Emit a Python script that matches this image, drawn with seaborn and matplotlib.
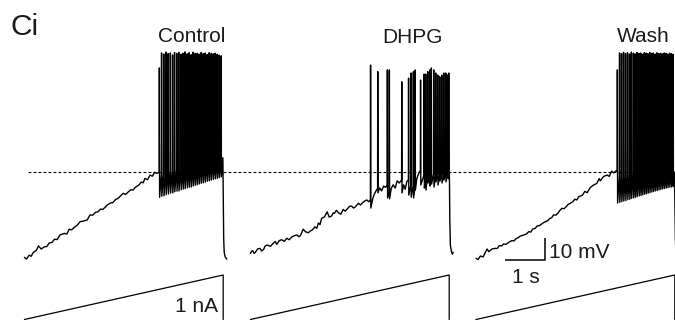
import numpy as np
import pandas as pd
import matplotlib
matplotlib.use("Agg")
import matplotlib.pyplot as plt
import seaborn as sns

# ---------------- data ----------------
conditions = ["Control", "DHPG", "Wash"]
sweep_start_s = [0.61, 6.26, 11.90]          # start of each sweep on the common time axis
sweep_duration_s = 4.97
threshold_mV = -50.0
ramp_start_nA = 0.0
ramp_peak_nA = 1.0

# Control: subthreshold knots (local time s, mV)
ctrl_base_t = [0.00, 0.05, 0.12, 0.17, 0.22, 0.30, 0.35, 0.42, 0.50, 0.56, 0.62, 0.69, 0.75,
               0.82, 0.89, 1.00, 1.06, 1.12, 1.18, 1.25, 1.32, 1.39, 1.50, 1.57, 1.64, 1.71,
               1.78, 1.84, 1.90, 1.96, 2.02, 2.08, 2.14, 2.21, 2.28, 2.34, 2.40, 2.47, 2.53,
               2.60, 2.66, 2.72, 2.77, 2.82, 2.87, 2.92, 2.97, 3.015, 3.08, 3.14, 3.20, 3.25, 3.31]
ctrl_base_v = [-88.8, -89.6, -87.8, -88.3, -86.6, -85.6, -83.6, -85.0, -84.0, -83.9, -82.3,
               -82.0, -80.6, -80.7, -78.6, -77.9, -78.2, -76.0, -76.3, -75.1, -74.2, -72.6,
               -72.2, -71.8, -69.5, -69.6, -68.3, -68.1, -66.9, -67.0, -66.0, -64.9, -64.2,
               -63.9, -62.5, -62.0, -60.9, -59.7, -60.2, -59.0, -58.1, -58.2, -57.0, -56.4,
               -55.8, -54.6, -54.9, -52.9, -53.5, -51.4, -51.9, -50.2, -50.6]
ctrl_spk_t = [3.37, 3.425, 3.48, 3.535, 3.59, 3.645, 3.70, 3.75, 3.805, 3.855, 3.91, 3.96,
              4.01, 4.065, 4.115, 4.165, 4.215, 4.265, 4.315, 4.365, 4.415, 4.465, 4.515,
              4.565, 4.615, 4.665, 4.715, 4.765, 4.815, 4.865, 4.915]
ctrl_spk_peak = [-2.7, 4.1, 3.6, 4.5, 3.8, 4.1, 3.2, 4.3, 3.9, 4.4, 3.5, 4.0, 4.6, 3.7, 4.2, 3.3,
                 4.5, 3.9, 4.0, 3.6, 4.3, 3.8, 4.1, 3.4, 4.2, 3.9, 3.7, 4.0, 3.5, 3.1, 2.8]
ctrl_spk_thr = [-50.2, -50.8, -50.4, -50.3, -49.9, -49.7, -49.4, -49.3, -48.9, -48.8, -48.4, -48.3,
                -48.0, -47.9, -47.5, -47.5, -47.1, -47.0, -46.7, -46.6, -46.3, -46.2, -45.9,
                -45.8, -45.5, -45.4, -45.1, -45.0, -44.7, -44.6, -44.3]
ctrl_spk_trough = [-61.5, -61.0, -60.8, -60.3, -60.0, -59.6, -59.5, -59.0, -58.7, -58.6, -58.1,
                   -57.8, -57.6, -57.2, -56.9, -56.8, -56.3, -56.0, -55.8, -55.4, -55.1, -54.9,
                   -54.6, -54.2, -54.0, -53.7, -53.4, -53.1, -52.9, -52.5, -52.2]
ctrl_end_t = [4.962, 4.972, 4.982, 4.995, 5.02, 5.06]
ctrl_end_v = [-43.5, -62.0, -80.0, -86.5, -88.6, -89.6]

# DHPG
dhpg_base_t = [0.00, 0.03, 0.06, 0.09, 0.12, 0.18, 0.24, 0.28, 0.33, 0.37, 0.42, 0.50, 0.57,
               0.62, 0.66, 0.72, 0.78, 0.85, 0.91, 0.97, 1.03, 1.09, 1.16, 1.21, 1.25,
               1.32, 1.38, 1.45, 1.50, 1.55, 1.615, 1.66, 1.70, 1.74, 1.78, 1.85, 1.92, 1.97,
               2.03, 2.07, 2.10, 2.15, 2.20, 2.26, 2.32, 2.37, 2.42, 2.48, 2.53, 2.58, 2.62,
               2.70, 2.75, 2.80, 2.86, 2.91, 2.96,
               3.06, 3.10, 3.14, 3.23, 3.28, 3.33, 3.38, 3.52, 3.57, 3.62, 3.67, 3.72,
               3.83, 3.87, 3.91, 4.16, 4.20]
dhpg_base_v = [-87.0, -86.0, -85.8, -87.0, -86.6, -85.0, -84.7, -85.9, -85.2, -83.6, -83.2,
               -83.8, -82.4, -81.6, -82.9, -81.2, -80.8, -81.5, -80.1, -80.8, -79.6, -79.0,
               -78.6, -79.4, -78.9, -76.0, -77.2, -77.6, -76.8, -76.3, -74.9, -75.6, -73.2,
               -73.9, -71.1, -70.4, -68.1, -70.5, -70.0, -68.6, -68.8, -67.4, -68.5, -69.2,
               -67.0, -67.8, -66.8, -65.6, -65.5, -66.4, -65.9, -64.2, -65.0, -64.0, -63.2,
               -62.7, -63.5, -62.0, -60.0, -58.6, -57.2, -58.6, -56.4, -57.0, -57.5, -55.8,
               -57.3, -54.0, -55.0, -55.8, -57.9, -54.4, -53.0, -51.0]
dhpg_spk_t = [3.00, 3.18, 3.42, 3.47, 3.78, 3.95, 4.01, 4.07, 4.115, 4.25, 4.34, 4.38, 4.43,
              4.48, 4.52, 4.58, 4.63, 4.68, 4.73, 4.78, 4.83, 4.88, 4.925, 4.955]
dhpg_spk_peak = [-1.4, -4.4, -3.6, -3.6, -9.0, -7.3, -5.0, -4.4, -3.6, -8.2, -5.5, -5.5, -4.4,
                 -3.6, -2.7, -3.6, -5.0, -5.9, -6.7, -5.9, -5.0, -5.0, -5.9, -5.0]
dhpg_spk_thr = [-62.7, -57.4, -55.9, -59.1, -53.6, -53.6, -55.9, -56.4, -56.8, -49.1, -51.4,
                -52.7, -50.9, -51.8, -51.4, -50.9, -51.8, -50.5, -51.4, -50.9, -51.8, -50.5,
                -51.4, -50.9]
dhpg_spk_trough = [-66.4, -59.5, -61.8, -62.2, -59.5, -60.5, -61.4, -61.8, -58.2, -55.9, -57.3,
                   -58.2, -55.0, -56.4, -55.5, -56.8, -54.5, -55.9, -54.1, -55.0, -53.6, -54.5,
                   -52.7, -53.2]
dhpg_end_t = [4.975, 4.985, 5.00, 5.03, 5.05, 5.07]
dhpg_end_v = [-51.0, -72.0, -83.5, -86.4, -87.4, -86.5]

# Wash
wash_base_t = [0.00, 0.05, 0.11, 0.18, 0.24, 0.278, 0.32, 0.40, 0.485, 0.53, 0.58, 0.64, 0.69,
               0.75, 0.80, 0.85, 0.90, 0.95, 1.00, 1.05, 1.11, 1.20, 1.26, 1.32, 1.37, 1.42,
               1.48, 1.53, 1.58, 1.63, 1.68, 1.735, 1.79, 1.84, 1.89, 1.94, 2.00, 2.05, 2.10,
               2.15, 2.20, 2.25, 2.30, 2.36, 2.42, 2.47, 2.52, 2.57, 2.66, 2.72, 2.78, 2.86,
               2.94, 3.02, 3.08, 3.11, 3.19, 3.28, 3.33, 3.39, 3.44, 3.49]
wash_base_v = [-89.2, -89.8, -88.2, -88.6, -86.3, -85.0, -86.2, -85.0, -84.7, -84.8, -83.5,
               -83.6, -82.7, -82.9, -82.2, -81.6, -81.2, -81.3, -80.3, -79.9, -79.1, -78.6,
               -78.2, -77.1, -77.3, -75.9, -75.6, -74.5, -74.4, -73.8, -73.1, -72.6, -72.2,
               -71.2, -70.8, -69.5, -69.6, -68.6, -67.4, -66.5, -66.7, -65.9, -64.8, -64.2,
               -63.5, -62.4, -62.7, -61.2, -60.6, -58.8, -59.4, -57.0, -55.9, -55.2, -53.0,
               -54.0, -52.0, -51.4, -52.0, -49.6, -50.4, -49.6]
wash_spk_t = [3.53, 3.585, 3.635, 3.685, 3.735, 3.785, 3.835, 3.88, 3.93, 3.975, 4.02, 4.07,
              4.115, 4.16, 4.205, 4.25, 4.295, 4.34, 4.385, 4.43, 4.475, 4.52, 4.565, 4.61,
              4.655, 4.70, 4.745, 4.79, 4.835, 4.88, 4.925]
wash_spk_peak = [-3.6, 4.1, 3.8, 4.4, 3.9, 4.2, 3.6, 4.5, 4.0, 3.7, 4.3, 3.9, 4.1, 3.5, 4.2,
                 4.0, 3.8, 4.4, 3.9, 4.1, 3.6, 4.2, 3.8, 4.0, 3.7, 4.1, 3.9, 3.6, 4.0, 3.8, 3.5]
wash_spk_thr = [-49.6, -51.8, -51.6, -51.9, -51.4, -51.5, -51.2, -51.3, -51.0, -51.1, -50.8,
                -50.9, -50.6, -50.7, -50.5, -50.6, -50.3, -50.4, -50.2, -50.3, -50.0, -50.1,
                -49.9, -50.0, -49.8, -49.9, -49.7, -49.8, -49.6, -49.7, -49.5]
wash_spk_trough = [-64.1, -63.8, -63.5, -63.2, -63.0, -62.6, -62.4, -62.0, -61.8, -61.5, -61.2,
                   -60.9, -60.7, -60.4, -60.1, -59.9, -59.6, -59.4, -59.1, -58.9, -58.6, -58.4,
                   -58.2, -57.9, -57.7, -57.5, -57.3, -57.1, -56.9, -56.8, -56.6]
wash_end_t = [4.962, 4.975, 4.985, 5.00, 5.03]
wash_end_v = [-50.0, -68.0, -81.0, -86.5, -88.5]

scalebar_time_s = 1.0
scalebar_volt_mV = 10.0
scalebar_labels = ["1 s", "10 mV"]
current_label = "1 nA"
panel_label = "Ci"

# ---------------- figure ----------------
sns.set_style("white")
plt.rcParams["font.family"] = ["Liberation Sans", "DejaVu Sans"]

W, H = 675, 320
PX_PER_S = 40.0
PX_PER_MV = 2.2
PX_PER_NA = 44.5
THR_PX = 172.0     # pixel row of the threshold line
ZERO_NA_PX = 319.5

fig = plt.figure(figsize=(W / 100, H / 100), dpi=100)
ax_v = fig.add_axes([0, 0, 1, 1])
ax_i = fig.add_axes([0, 0, 1, 1])
ax_i.patch.set_alpha(0)
for ax in (ax_v, ax_i):
    ax.set_xlim(0, W / PX_PER_S)
ax_v.set_ylim(threshold_mV - (H - THR_PX) / PX_PER_MV, threshold_mV + THR_PX / PX_PER_MV)
ax_i.set_ylim(-(H - ZERO_NA_PX) / PX_PER_NA, ZERO_NA_PX / PX_PER_NA)


def build_trace(base_t, base_v, spk_t, spk_thr, spk_peak, spk_trough, end_t, end_v, offset):
    pts = list(zip(base_t, base_v))
    for ts, th, pk, tr in zip(spk_t, spk_thr, spk_peak, spk_trough):
        pts += [(ts, th), (ts + 0.004, pk), (ts + 0.010, tr)]
    pts += list(zip(end_t, end_v))
    pts.sort(key=lambda p: p[0])
    t = np.array([p[0] for p in pts]) + offset
    v = np.array([p[1] for p in pts])
    return pd.DataFrame({"t": t, "mV": v})


traces = [
    (ctrl_base_t, ctrl_base_v, ctrl_spk_t, ctrl_spk_thr, ctrl_spk_peak, ctrl_spk_trough, ctrl_end_t, ctrl_end_v),
    (dhpg_base_t, dhpg_base_v, dhpg_spk_t, dhpg_spk_thr, dhpg_spk_peak, dhpg_spk_trough, dhpg_end_t, dhpg_end_v),
    (wash_base_t, wash_base_v, wash_spk_t, wash_spk_thr, wash_spk_peak, wash_spk_trough, wash_end_t, wash_end_v),
]

# threshold reference (dashed)
ax_v.plot([28 / PX_PER_S, W / PX_PER_S], [threshold_mV, threshold_mV], color="black",
          lw=0.8, linestyle=(0, (2.6, 1.9)))

for args, off in zip(traces, sweep_start_s):
    df = build_trace(*args, offset=off)
    sns.lineplot(data=df, x="t", y="mV", ax=ax_v, sort=False, estimator=None,
                 color="black", linewidth=1.0, legend=False)
    ramp = pd.DataFrame({"t": [off, off + sweep_duration_s, off + sweep_duration_s],
                         "nA": [ramp_start_nA, ramp_peak_nA, ramp_start_nA]})
    sns.lineplot(data=ramp, x="t", y="nA", ax=ax_i, sort=False, estimator=None,
                 color="black", linewidth=0.9, legend=False)

# scale bar
sb_x0 = 505 / PX_PER_S
sb_y0 = threshold_mV - (259.5 - THR_PX) / PX_PER_MV
ax_v.plot([sb_x0, sb_x0 + scalebar_time_s, sb_x0 + scalebar_time_s],
          [sb_y0, sb_y0, sb_y0 + scalebar_volt_mV], color="black", lw=1.1, solid_capstyle="butt")

for ax in (ax_v, ax_i):
    ax.set_axis_off()


def ftext(x, y, s, **kw):
    fig.text(x / W, 1 - y / H, s, va="baseline", color="#1a1a1a", **kw)


ftext(11, 35, panel_label, fontsize=21.5, ha="left")
ftext(192, 42.5, conditions[0], fontsize=15, ha="center")
ftext(412.5, 43, conditions[1], fontsize=15, ha="center")
ftext(643, 42.5, conditions[2], fontsize=15, ha="center")
ftext(175, 311.5, current_label, fontsize=15, ha="left")
ftext(549, 257.5, scalebar_labels[1], fontsize=15, ha="left")
ftext(526, 283, scalebar_labels[0], fontsize=15, ha="center")

fig.savefig("out.png", dpi=100)
